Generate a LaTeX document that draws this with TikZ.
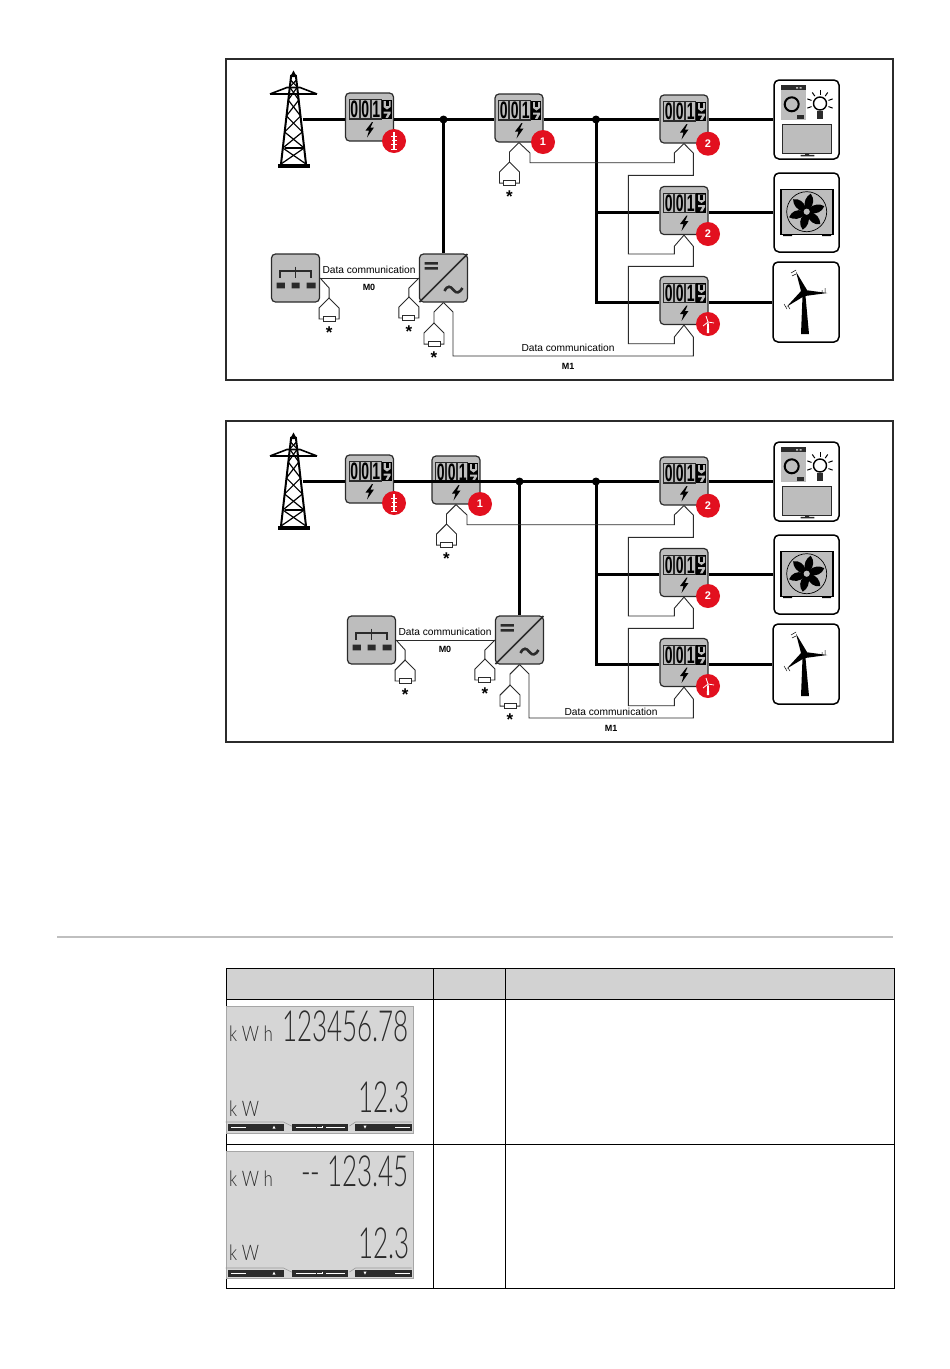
\documentclass[tikz,border=0pt]{standalone}
\usepackage{fontspec}
\usepackage{graphicx}
\setmainfont{Liberation Sans}
\newfontfamily\lcdfont[UprightFont={* Light}]{Lato}
\usetikzlibrary{arrows.meta,positioning,calc}
\definecolor{devgray}{HTML}{BDBDBD}
\definecolor{lcdgray}{HTML}{D6D6D6}
\definecolor{headgray}{HTML}{D2D2D2}
\definecolor{badgered}{HTML}{E2101F}
\definecolor{inkdark}{HTML}{2B2B2B}
\newcommand{\digitsrow}{\makebox[0pt][c]{\hspace*{-8.6pt}\raisebox{-0.9pt}[0pt][0pt]{\scalebox{1}[1.7]{\fontsize{14}{14}\selectfont\bfseries\makebox[11pt]{0}\makebox[11pt]{0}\makebox[11pt]{1}}}}}
\newcommand{\meterface}{%
  \begin{scope}[shift={(path picture bounding box.center)}, sharp corners]
    \foreach \c in {-20.3,-9.3,1.7}
      \draw[line width=1.1pt] (\c,-17.3) rectangle ++(10,19.3);
    \fill[black] (12.3,-17.3) rectangle (22.3,2);
    \fill[devgray] (14,-16) -- (21,-16) -- (21,-10) -- (17.5,-7.5) -- (14,-10) -- cycle;
    \fill[black] (16,-16) -- (19,-16) -- (19,-11) -- (16,-11) -- cycle;
    \fill[devgray] (14,-5.5) -- (21,-5.5) -- (21,-3.5) -- (18.5,.8) -- (16,.8) -- (18.3,-3.5) -- (14,-3.5) -- cycle;
    \fill[black] (2.5,5) -- (-4,13.5) -- (-.5,13.5) -- (-2.5,20.5) -- (4.5,10.5) -- (1,10.5) -- (3.5,5) -- cycle;
  \end{scope}}
\newcommand{\lcdtext}[3]{\scalebox{#2}[1.65]{\lcdfont\fontsize{#1}{#1}\selectfont #3}}
\tikzset{
  panel/.style={draw=inkdark, line width=1.6pt, minimum width=667pt, minimum height=321pt, inner sep=0pt},
  device/.style={draw=inkdark, line width=1.2pt, fill=devgray, rounded corners=4pt, minimum size=48pt, inner sep=0pt},
  meter/.style={device, path picture={\meterface}},
  load/.style={draw=black, line width=1.5pt, fill=white, rounded corners=5pt, minimum width=65pt, minimum height=79pt, inner sep=0pt},
  badge/.style={circle, fill=badgered, minimum size=24pt, inner sep=0pt, text=white, font=\bfseries\fontsize{11}{11}\selectfont},
  dotnode/.style={circle, fill=black, minimum size=8pt, inner sep=0pt},
  lbl/.style={font=\fontsize{10.2}{11}\selectfont, inner sep=0pt},
  lblb/.style={font=\bfseries\fontsize{9}{10}\selectfont, inner sep=0pt},
  starlbl/.style={font=\bfseries\fontsize{17}{17}\selectfont, inner sep=0pt},
  bus/.style={line width=3pt},
  wire/.style={line width=.9pt, draw=inkdark},
  cell/.style={draw=black, line width=1pt, inner sep=0pt},
  lcd/.style={fill=lcdgray, draw=gray!70, line width=.4pt, minimum width=187pt, minimum height=127pt, inner sep=0pt},
  lcdlbl/.style={inner sep=0pt, text=inkdark},
  softbar/.style={fill=inkdark},
  plug/.pic={
    \draw[wire, fill=white] (0,0) -- (-10,10) -- (-10,21) -- (10,21) -- (10,10) -- cycle;
    \draw[wire, fill=white] (-6,18.5) rectangle (6,23);
    \node[starlbl] at (0,35) {*};
  },
  softkeys/.pic={
    \draw[gray!80, line width=.6pt] (-94,-4) -- (-36,-4) -- (-28,0) (-28,0) -- (-22,0) (30,0) -- (36,-4) -- (92,-4);
    \fill[softbar] (-92,-2) rectangle (-36,5);
    \fill[softbar] (-28,-2) rectangle (28,5);
    \fill[softbar] (35,-2) rectangle (92,5);
    \fill[white] (-89,0.7) rectangle (-74,2);
    \fill[white] (-47,2.5) -- (-44,2.5) -- (-45.5,-.5) -- cycle;
    \fill[white] (-24,0.7) rectangle (-4,2);
    \fill[white] (6,0.7) rectangle (25,2);
    \draw[white, line width=.8pt] (3,-.5) -- (3,1.7) -- (-3,1.7);
    \fill[white] (44,-.5) -- (47,-.5) -- (45.5,2.5) -- cycle;
    \fill[white] (75,0.7) rectangle (90,2);
  }
}

\begin{document}
\begin{tikzpicture}[x=1pt,y=-1pt]
  \useasboundingbox (0,0) rectangle (950,1369);

  \foreach \pnl/\dy/\mx/\ix/\lx/\ly in {a/0/0/0/568/348, b/362/-63/76/611/350}{
  \begin{scope}[shift={(0,\dy)}]
    \node[panel] (frame\pnl) at (559.5,219.5) {};
    \node[minimum width=19pt, minimum height=97pt, inner sep=0pt] (tower\pnl) at (293.5,119.5) {};

    % meters
    \node[meter] (m0\pnl) at (369.5,117) {\digitsrow};
    \node[meter] (m1\pnl) at (519+\mx,118) {\digitsrow};
    \node[meter] (ma\pnl) at (684,119) {\digitsrow};
    \node[meter] (mb\pnl) at (684,210.5) {\digitsrow};
    \node[meter] (mc\pnl) at (684,300.5) {\digitsrow};

    % devices
    \node[device] (inv\pnl) at (443.5+\ix,278) {};
    \node[device] (gw\pnl) at (295.5+\ix,278) {};
    \node[load] (la\pnl) at (806.5,119.5) {};
    \node[load] (lb\pnl) at (806.5,212.5) {};
    \node[load, minimum width=66pt, minimum height=80pt] (lc\pnl) at (806,302) {};

    \coordinate (j1\pnl) at (443.5+\ix,119.5);
    \coordinate (j2\pnl) at (596,119.5);

    % mains
    \draw[bus] (tower\pnl) -- (m0\pnl.west |- j1\pnl) (m0\pnl.east |- j1\pnl) -- (j1\pnl)
      -- (m1\pnl.west |- j1\pnl) (m1\pnl.east |- j1\pnl) -- (j2\pnl)
      -- (ma\pnl.west |- j1\pnl) (ma\pnl.east |- j1\pnl) -- (la\pnl);
    \draw[bus] (j1\pnl) -- (inv\pnl);
    \draw[bus] (j2\pnl |- lb\pnl) -- (mb\pnl.west |- lb\pnl) (mb\pnl.east |- lb\pnl) -- (lb\pnl);
    \draw[bus] (j2\pnl) |- (mc\pnl.west |- lc\pnl) (mc\pnl.east |- lc\pnl) -- (lc\pnl);
    \node[dotnode] (jd1\pnl) at (j1\pnl) {};
    \node[dotnode] (jd2\pnl) at (j2\pnl) {};

    % data lines
    \draw[wire] (gw\pnl.east) -- (inv\pnl.west);
    \draw[wire] (inv\pnl.south) -- ++(9.5,9.5) |- (693.3,356) -- (693.3,337) -- (mc\pnl.south);
    \draw[wire] (mc\pnl.south) -- (674.3,337) -- (674.3,343.7) -- (628.3,343.7) -- (628.3,266.3)
      -- (693.3,266.3) -- (693.3,246.3) -- (mb\pnl.south);
    \draw[wire] (mb\pnl.south) -- (674.3,246.3) -- (674.3,254) -- (628.3,254) -- (628.3,175.3)
      -- (693.3,175.3) -- (693.3,153) -- (ma\pnl.south);
    \draw[wire] (ma\pnl.south) -- (674.3,153) -- (674.3,162.7) -- (530+\mx,162.7) -- (530+\mx,153) -- (m1\pnl.south);

    % plugs
    \draw[wire] (m1\pnl.south) -- ++(-9.5,9.5) -- ++(0,10) coordinate (p1\pnl);
    \draw[wire] (gw\pnl.east) -- ++(9,10) -- ++(0,10) coordinate (p2\pnl);
    \draw[wire] (inv\pnl.west) -- ++(-10,10) -- ++(0,9) coordinate (p3\pnl);
    \draw[wire] (inv\pnl.south) -- ++(-9.5,9.5) -- ++(0,11) coordinate (p4\pnl);
    \foreach \q in {1,2,3,4}
      \pic at (p\q\pnl) {plug};

    % labels
    \node[lbl] (dc0\pnl) at (369+\ix,270) {Data communication};
    \node[lblb] (mz\pnl) at (369+\ix,287) {M0};
    \node[lbl] (dc1\pnl) at (\lx,\ly) {Data communication};
    \node[lblb] (mo\pnl) at (\lx,366) {M1};

    % badges
    \node[badge] (b0\pnl) at (394,141) {};
    \node[badge] (b1\pnl) at (543+\mx,142) {1};
    \node[badge] (b2\pnl) at (708,143.7) {2};
    \node[badge] (b3\pnl) at (708,234) {2};
    \node[badge] (b4\pnl) at (708,324) {};
    \begin{scope}[shift={(b0\pnl.center)}, white]
      \draw[line width=1.6pt] (0,-9) -- (0,9);
      \draw[line width=.9pt] (-3,-5) -- (3,-5) (-2.5,-1) -- (2.5,-1) (-3,3) -- (3,3) (-3,8.5) -- (3,8.5);
    \end{scope}
    \begin{scope}[shift={(b4\pnl.center)}, white]
      \draw[line width=.8pt] (0,-2) -- (-2,-8) (0,-2) -- (6,-1) (0,-2) -- (-5,2);
      \fill (-.7,-1) -- (.7,-1) -- (1.2,9) -- (-1.2,9) -- cycle;
    \end{scope}

    % gateway and inverter faces
    \begin{scope}[shift={(gw\pnl.center)}]
      \draw[line width=1.6pt, inkdark] (-15.7,0) -- (-15.7,-7) -- (15.7,-7) -- (15.7,0) (0,-11.3) -- (0,0);
      \fill[inkdark] (-19,4.7) rectangle (-10.6,10.3) (-4,4.7) rectangle (4,10.3) (11,4.7) rectangle (20,10.3);
    \end{scope}
    \begin{scope}[shift={(inv\pnl.center)}]
      \draw[line width=1.6pt, inkdark] (-24,24) -- (24,-24);
      \fill[inkdark] (-19,-15.8) rectangle (-5.6,-13.3) (-19,-11) rectangle (-5.6,-8.5);
      \draw[line width=2.6pt, inkdark] (1,13) .. controls (4,7) and (7,8) .. (10,12) .. controls (13,16) and (16,15) .. (19,10);
    \end{scope}

    % tower
    \draw[line width=2pt] (291.2,75) -- (281,164) (295.8,75) -- (306,164);
    \fill (293.5,70.5) -- (297,77) -- (290,77) -- cycle;
    \foreach \e/\f in {80/87,87/100,100/116,116/132,132/148,148/164}{
      \draw[line width=1.2pt] ({291-.112*(\e-75)},\e) -- ({296+.112*(\f-75)},\f);
      \draw[line width=1.2pt] ({296+.112*(\e-75)},\e) -- ({291-.112*(\f-75)},\f);
    }
    \draw[line width=1.6pt] (284.5,148) -- (302.5,148);
    \draw[line width=2.2pt] (270,94) -- (317,94);
    \draw[line width=1.6pt] (270,94) -- (287,87.5) -- (300,87.5) -- (317,94);
    \fill (278,164) rectangle (310,168);

    % household load
    \fill[devgray] (780.7,85.3) rectangle (805.7,120.3);
    \fill[inkdark] (780.7,85.3) rectangle (805.7,90);
    \fill[devgray] (796,87) rectangle (798,88.5) (799.5,87) rectangle (801.5,88.5);
    \draw[line width=2pt, black] (791.7,104.3) circle (7);
    \fill[inkdark] (797,115) rectangle (804,119.3);
    \draw[line width=1.4pt] (820,103.5) circle (6.5);
    \fill[inkdark] (816.7,110.5) rectangle (823.3,118.5);
    \foreach \r in {-70,-35,0,35,70,110,-110}
      \draw[line width=1pt, shift={(820,103.5)}, rotate=\r] (0,-9) -- (0,-13.5);
    \draw[fill=devgray, draw=inkdark, line width=.8pt] (782.3,124.3) rectangle (831,153.7);
    \fill[inkdark] (805,153.7) rectangle (809,155) (800.7,154.8) rectangle (814.3,156.3);

    % heat pump
    \draw[fill=devgray, line width=1.6pt] (781,189.3) rectangle (832.7,234.3);
    \fill (783,234) rectangle (792,236) (822,234) rectangle (831,236);
    \begin{scope}[shift={(806.7,211.7)}]
      \draw[line width=.7pt] (0,0) circle (20);
      \foreach \r in {0,60,...,300}
        \fill[black, rotate=\r] (-2,-3) .. controls (-3,-10) and (-1,-15) .. (4,-18) .. controls (8,-13) and (7,-7) .. (3,-3) -- cycle;
      \draw[fill=devgray, line width=1.4pt] (0,0) circle (4);
    \end{scope}

    % wind turbine
    \fill (802.5,296) -- (805.5,296) -- (809,334) -- (801,334) -- cycle;
    \fill (801,291) -- (796,271.7) -- (807,290) -- cycle;
    \fill (805,290) -- (827.3,293) -- (805,296) -- cycle;
    \fill (802,290) -- (786.7,306.7) -- (806,295) -- cycle;
    \fill (804,292.7) circle (3.5);
    \draw[line width=.5pt] (791,273) -- (796,270) (792,276) -- (796,274) (825,288) -- (825,293) (822,290) -- (822,293)
      (787,309) -- (784,304) (790,309) -- (788,306);
  \end{scope}
  }

  % rule and table
  \draw[gray!50, line width=1.6pt] (57,937) coordinate (rulea) -- (893,937) coordinate (ruleb);

  \node[cell, fill=headgray, minimum width=207pt, minimum height=31pt] (h1) at (329.5,984) {};
  \node[cell, fill=headgray, minimum width=72pt, minimum height=31pt] (h2) at (469,984) {};
  \node[cell, fill=headgray, minimum width=389pt, minimum height=31pt] (h3) at (699.5,984) {};
  \node[cell, minimum width=207pt, minimum height=144.5pt] (r1a) at (329.5,1071.75) {};
  \node[cell, minimum width=72pt, minimum height=144.5pt] (r1b) at (469,1071.75) {};
  \node[cell, minimum width=389pt, minimum height=144.5pt] (r1c) at (699.5,1071.75) {};
  \node[cell, minimum width=207pt, minimum height=144pt] (r2a) at (329.5,1216) {};
  \node[cell, minimum width=72pt, minimum height=144pt] (r2b) at (469,1216) {};
  \node[cell, minimum width=389pt, minimum height=144pt] (r2c) at (699.5,1216) {};

  % first display
  \node[lcd] (lcdA) at (319.5,1070) {};
  \node[lcdlbl, anchor=south east] (vA1) at (409,1042) {\lcdtext{26}{1}{123456.78}};
  \node[lcdlbl, anchor=south east] (vA2) at (410,1113) {\lcdtext{26}{1}{12.3}};
  \node[lcdlbl, anchor=south west] (uA1) at (229,1042) {\lcdtext{13}{1.3}{k W h}};
  \node[lcdlbl, anchor=south west] (uA2) at (229,1117) {\lcdtext{13}{1.3}{k W}};
  \pic at (319.5,1126) {softkeys};

  % second display
  \node[lcd] (lcdB) at (319.5,1214.5) {};
  \node[lcdlbl, anchor=south east] (vB1) at (409,1187) {\lcdtext{26}{1}{-- 123.45}};
  \node[lcdlbl, anchor=south east] (vB2) at (410,1259) {\lcdtext{26}{1}{12.3}};
  \node[lcdlbl, anchor=south west] (uB1) at (229,1187) {\lcdtext{13}{1.3}{k W h}};
  \node[lcdlbl, anchor=south west] (uB2) at (229,1261) {\lcdtext{13}{1.3}{k W}};
  \pic at (319.5,1272) {softkeys};
\end{tikzpicture}
\end{document}
